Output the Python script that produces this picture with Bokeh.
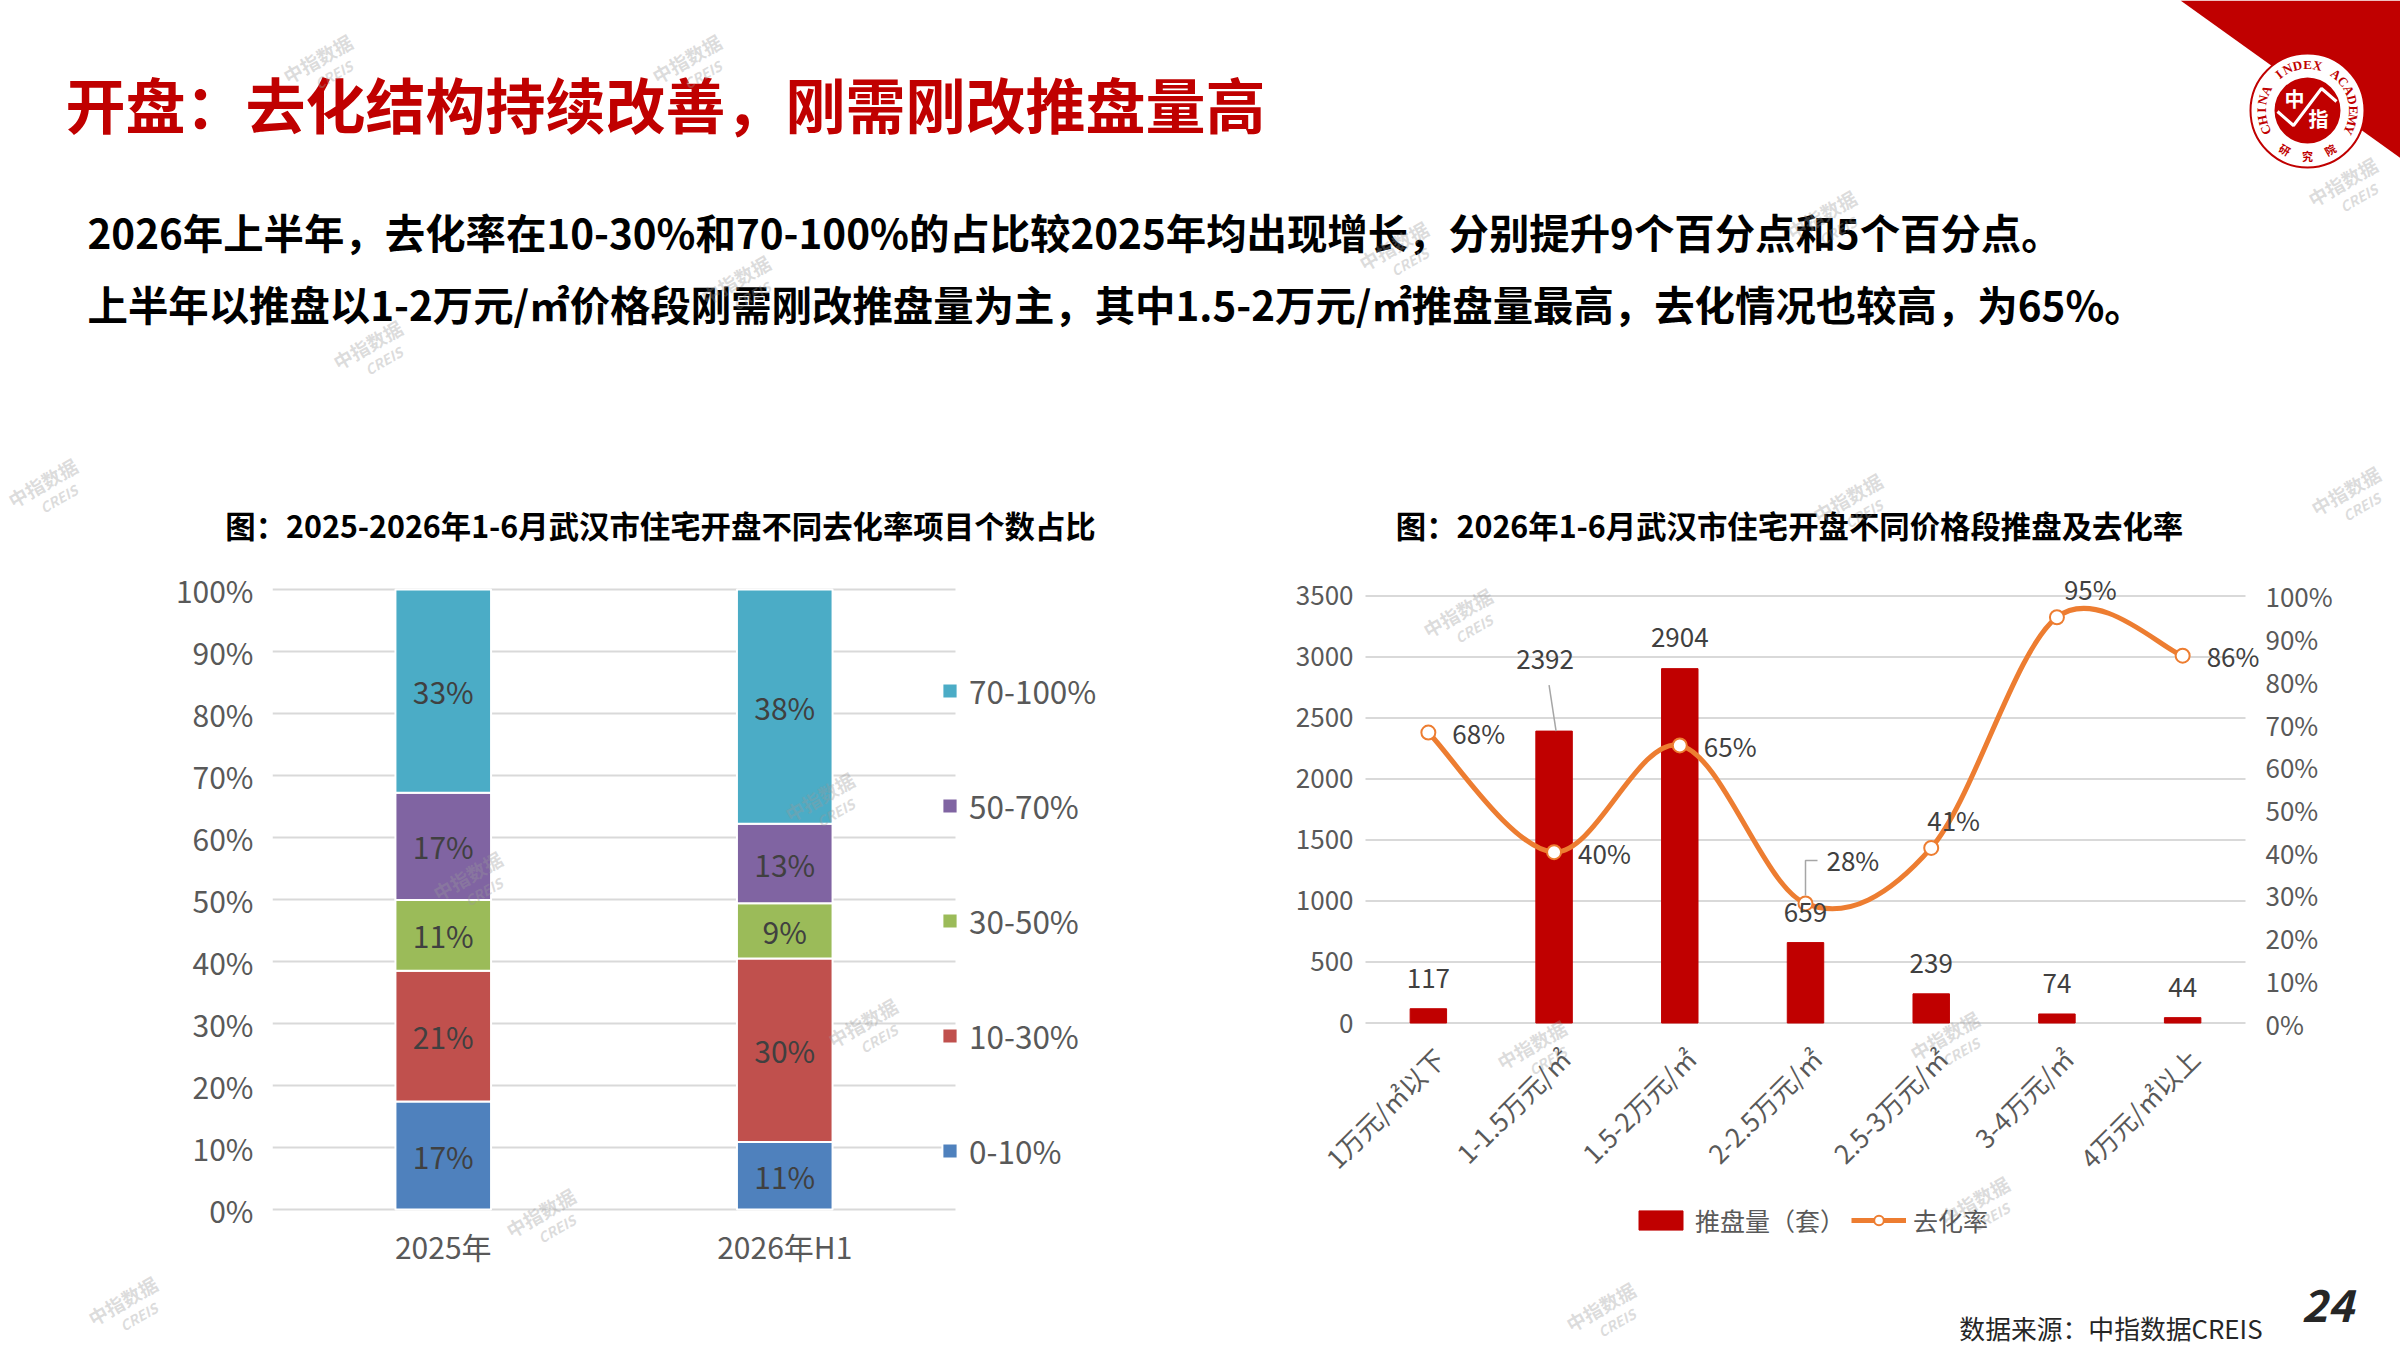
import math
from bokeh.plotting import figure
from bokeh.models import Range1d, LinearAxis, Legend, LegendItem, ColumnDataSource, FixedTicker
from bokeh.layouts import column, row
from bokeh.embed import file_html
from bokeh.resources import INLINE
from bokeh.core.properties import value

FONT = "Noto Sans CJK SC"

# ---------------- texts ----------------
page_title = "开盘：去化结构持续改善，刚需刚改推盘量高"
summary_1 = "2026年上半年，去化率在10-30%和70-100%的占比较2025年均出现增长，分别提升9个百分点和5个百分点。"
summary_2 = "上半年以推盘以1-2万元/㎡价格段刚需刚改推盘量为主，其中1.5-2万元/㎡推盘量最高，去化情况也较高，为65%。"
left_title = "图：2025-2026年1-6月武汉市住宅开盘不同去化率项目个数占比"
right_title = "图：2026年1-6月武汉市住宅开盘不同价格段推盘及去化率"
source_note = "数据来源：中指数据CREIS"
page_no = "24"

# ---------------- left chart data ----------------
years = ["2025年", "2026年H1"]
rate_bins = ["0-10%", "10-30%", "30-50%", "50-70%", "70-100%"]
share_0_10 = [17.4, 10.9]
share_10_30 = [21.1, 29.6]
share_30_50 = [11.4, 8.9]
share_50_70 = [17.3, 12.8]
share_70_100 = [32.8, 37.8]
pct_ticks = list(range(0, 101, 10))
bin_colors = ["#4F81BD", "#C0504D", "#9BBB59", "#8064A2", "#4BACC6"]

# ---------------- right chart data ----------------
price_bands = ["1万元/㎡以下", "1-1.5万元/㎡", "1.5-2万元/㎡", "2-2.5万元/㎡",
               "2.5-3万元/㎡", "3-4万元/㎡", "4万元/㎡以上"]
units = [117, 2392, 2904, 659, 239, 74, 44]
sell_rate = [68, 40, 65, 28, 41, 95, 86]
unit_ticks = list(range(0, 3501, 500))

AX_COLOR = "#595959"
LBL_COLOR = "#404040"
GRID = "#d9d9d9"
RED = "#C00000"
ORANGE = "#ED7D31"

W = 2400
H_HEAD, H_CHART, H_FOOT = 552, 716, 80
CHART_TOP = H_HEAD                 # screen y of chart row
FRAME_BOTTOM = CHART_TOP + H_CHART # screen y of chart frames' bottom
F0 = CHART_TOP + H_CHART           # screen y of footer


def blank(width, height):
    p = figure(width=width, height=height, x_range=Range1d(0, width), y_range=Range1d(height, 0),
               output_backend="svg", toolbar_location=None, min_border=0,
               x_axis_location=None, y_axis_location=None, title=None)
    p.outline_line_color = None
    p.grid.visible = False
    return p


def watermark(p, x, y, conv):
    th = math.radians(30)
    x0, y0 = conv(x, y)
    x1, y1 = conv(x + 22 * math.sin(th) + 6 * math.cos(th), y + 22 * math.cos(th) - 6 * math.sin(th))
    kw = dict(angle=th, text_align="center", text_baseline="middle", text_color="#9a9a9a",
              text_alpha=0.35, text_font=value(FONT))
    p.text(x=[x0], y=[y0], text=["中指数据"], text_font_size="19px", text_font_style="bold", **kw)
    p.text(x=[x1], y=[y1], text=["CREIS"], text_font_size="14px", text_font_style="bold italic", **kw)


def style_axis(ax, size):
    ax.major_tick_line_color = None
    ax.minor_tick_line_color = None
    ax.axis_line_color = None
    ax.major_label_text_font = FONT
    ax.major_label_text_font_size = size
    ax.major_label_text_color = AX_COLOR


# ================= header =================
pH = blank(W, H_HEAD)
hc = lambda sx, sy: (sx, sy)
pH.text(x=[65], y=[102], text=[page_title], text_font=value(FONT), text_font_size="60px",
        text_font_style="bold", text_color=RED, text_baseline="middle", text_align="left")
pH.text(x=[87, 87], y=[230.5, 302.5], text=[summary_1, summary_2], text_font=value(FONT),
        text_font_size="40.4px", text_font_style="bold", text_color="#000000",
        text_baseline="middle", text_align="left")
pH.text(x=[660, 1789], y=[524.5, 524.5], text=[left_title, right_title], text_font=value(FONT),
        text_font_size="30.4px", text_font_style="bold", text_color="#000000",
        text_baseline="middle", text_align="center")

# logo corner
pH.patch(x=[2180, 2420, 2420], y=[0, 0, 172], fill_color=RED, line_color=None)
cx, cy = 2307, 110
pH.circle(x=[cx], y=[cy], radius=57, fill_color="white", line_color=RED, line_width=2)
pH.circle(x=[cx], y=[cy], radius=33, fill_color=RED, line_color=None)
pH.line(x=[cx - 30, cx - 14, cx + 14, cx + 29], y=[cy + 1, cy + 15, cy - 22, cy - 9],
        line_color="white", line_width=3)
pH.text(x=[cx - 13, cx + 11], y=[cy - 12, cy + 8], text=["中", "指"], text_font=value(FONT),
        text_font_size="20px", text_font_style="bold", text_color="white",
        text_align="center", text_baseline="middle")
ring = "CHINA INDEX ACADEMY"
n = len(ring)
a0, a1 = math.radians(205), math.radians(-25)
for i, ch in enumerate(ring):
    t = a0 + (a1 - a0) * i / (n - 1)
    pH.text(x=[cx + 46 * math.cos(t)], y=[cy - 46 * math.sin(t)], text=[ch], angle=t - math.pi / 2,
            text_font=value("Liberation Serif"), text_font_size="13px", text_font_style="bold",
            text_color=RED, text_align="center", text_baseline="middle")
for i, ch in enumerate("研究院"):
    t = math.radians(240 + 30 * i)
    pH.text(x=[cx + 45 * math.cos(t)], y=[cy - 45 * math.sin(t)], text=[ch], angle=t + math.pi / 2,
            text_font=value(FONT), text_font_size="11px", text_font_style="bold",
            text_color=RED, text_align="center", text_baseline="middle")

for (sx, sy) in [(317, 58), (686, 58), (367, 344), (1821, 214), (1393, 245), (2342, 181),
                 (1847, 497), (2345, 490), (42, 482), (735, 279)]:
    watermark(pH, sx, sy, hc)

# ================= left chart =================
# frame: x 272..1200 ; categories 341.5 px wide, 0% at y=1209, 100% at y=589
L_PX = 6.2        # px per percentage point
L_CAT = 341.5     # px per category
pL = figure(width=1200, height=H_CHART, x_range=Range1d(0, (1200 - 272) / L_CAT),
            y_range=Range1d(-(FRAME_BOTTOM - 1209) / L_PX, 100 + (589 - CHART_TOP) / L_PX),
            output_backend="svg", toolbar_location=None, title=None,
            min_border_left=272, min_border_right=0, min_border_top=0, min_border_bottom=0)
pL.outline_line_color = None
pL.grid.visible = False
year_x = [i + 0.5 for i in range(len(years))]
pL.segment(x0=[0] * len(pct_ticks), x1=[len(years)] * len(pct_ticks), y0=pct_ticks, y1=pct_ticks,
           line_color=GRID, line_width=2)
srcL = ColumnDataSource(dict(xpos=year_x, b0=share_0_10, b1=share_10_30, b2=share_30_50,
                             b3=share_50_70, b4=share_70_100))
bars = pL.vbar_stack(["b0", "b1", "b2", "b3", "b4"], x="xpos", width=0.28, color=bin_colors,
                     line_color="white", line_width=2, source=srcL)
stack = [share_0_10, share_10_30, share_30_50, share_50_70, share_70_100]
lx, ly, lt = [], [], []
for j in range(len(years)):
    base = 0
    for s in stack:
        lx.append(year_x[j])
        ly.append(base + s[j] / 2)
        lt.append(f"{round(s[j])}%")
        base += s[j]
pL.text(x=lx, y=ly, text=lt, text_font=value(FONT), text_font_size="30px", text_color=LBL_COLOR,
        text_align="center", text_baseline="middle")

pL.yaxis.ticker = FixedTicker(ticks=pct_ticks)
pL.yaxis.major_label_overrides = {t: f"{t}%" for t in pct_ticks}
pL.xaxis.ticker = FixedTicker(ticks=year_x)
pL.xaxis.major_label_overrides = {x: yr for x, yr in zip(year_x, years)}
style_axis(pL.xaxis[0], "30px")
style_axis(pL.yaxis[0], "30px")
pL.yaxis.major_label_standoff = 13
pL.xaxis.fixed_location = 0
pL.xaxis.major_label_standoff = 8

legL = Legend(items=[LegendItem(label=rate_bins[k], renderers=[bars[k]]) for k in range(4, -1, -1)],
              location=(668, 93 - (1266 - FRAME_BOTTOM)), orientation="vertical",
              glyph_width=19, glyph_height=19,
              label_standoff=10, spacing=69, padding=0, margin=0, label_height=36,
              border_line_color=None, background_fill_alpha=0,
              label_text_font=FONT, label_text_font_size="31.5px", label_text_color=AX_COLOR)
pL.add_layout(legL, "center")

lc = lambda sx, sy: ((sx - 272) / L_CAT, (1209 - sy) / L_PX)
for (sx, sy) in [(467, 875), (819, 796), (862, 1022), (540, 1212)]:
    watermark(pL, sx, sy, lc)

# ================= right chart =================
# frame: x 1300..2290 (category 0 starts at 1365) ; 0 at y=1022.5, 3500 at y=595.4
PX_X = 880 / 7                 # px per category
PX_U = (1022.5 - 595.4) / 3500  # px per unit
PX_R = PX_U * 35               # px per percentage point
R_LEFT, R_ZERO, R_RIGHT = 1300, 1365, 2290
u_start = -(FRAME_BOTTOM - 1022.5) / PX_U
u_end = 3500 + (595.4 - CHART_TOP) / PX_U
pR = figure(width=1200, height=H_CHART,
            x_range=Range1d(-(R_ZERO - R_LEFT) / PX_X, (R_RIGHT - R_ZERO) / PX_X),
            y_range=Range1d(u_start, u_end), output_backend="svg", toolbar_location=None,
            title=None, min_border_left=R_LEFT - 1200, min_border_right=2400 - R_RIGHT,
            min_border_top=0, min_border_bottom=0)
pR.outline_line_color = None
pR.grid.visible = False
pR.extra_y_ranges = {"rate": Range1d(u_start / 35, u_end / 35)}

xs = [i + 0.5 for i in range(len(price_bands))]
# horizontal gridlines over the category span
pR.segment(x0=[0] * len(unit_ticks), x1=[len(price_bands)] * len(unit_ticks), y0=unit_ticks,
           y1=unit_ticks, line_color=GRID, line_width=2)

bar_r = pR.vbar(x=xs, top=units, width=0.29, color=RED)

# smoothed rate line (Catmull-Rom style Bezier through the data points)
m = len(sell_rate)
bx0, by0, bx1, by1, bcx0, bcy0, bcx1, bcy1 = [], [], [], [], [], [], [], []
for i in range(m - 1):
    p0 = i - 1 if i > 0 else i
    p3 = i + 2 if i + 2 < m else i + 1
    bx0.append(xs[i]); by0.append(sell_rate[i])
    bx1.append(xs[i + 1]); by1.append(sell_rate[i + 1])
    bcx0.append(xs[i] + (xs[i + 1] - xs[p0]) / 6)
    bcy0.append(sell_rate[i] + (sell_rate[i + 1] - sell_rate[p0]) / 6)
    bcx1.append(xs[i + 1] - (xs[p3] - xs[i]) / 6)
    bcy1.append(sell_rate[i + 1] - (sell_rate[p3] - sell_rate[i]) / 6)
line_r = pR.bezier(x0=bx0, y0=by0, x1=bx1, y1=by1, cx0=bcx0, cy0=bcy0, cx1=bcx1, cy1=bcy1,
                   line_color=ORANGE, line_width=5, y_range_name="rate")
mark_r = pR.scatter(x=xs, y=sell_rate, marker="circle", size=14, fill_color="white",
                    line_color=ORANGE, line_width=2, y_range_name="rate")

# leader lines
pR.segment(x0=[xs[1] + 2 / PX_X], y0=[units[1]], x1=[xs[1] - 5 / PX_X], y1=[units[1] + 46 / PX_U],
           line_color="#a6a6a6", line_width=1.5)
pR.line(x=[xs[3], xs[3], xs[3] + 12 / PX_X],
        y=[sell_rate[3] + 8 / PX_R, sell_rate[3] + 43 / PX_R, sell_rate[3] + 43 / PX_R],
        line_color="#a6a6a6", line_width=1.5, y_range_name="rate")

bar_dx = [0, -9, 0, 0, 0, 0, 0]
bar_dy = [-30, -72, -31, -30, -30, -30, -30]
pR.text(x=xs, y=units, text=[str(u) for u in units], x_offset=bar_dx, y_offset=bar_dy,
        text_font=value(FONT), text_font_size="26px", text_color=LBL_COLOR,
        text_align="center", text_baseline="middle")
rate_dx = [24, 24, 24, 21, -4, 7, 24]
rate_dy = [0, 0, 0, -44, -28, -29, 0]
pR.text(x=xs, y=sell_rate, text=[f"{r}%" for r in sell_rate], x_offset=rate_dx,
        y_offset=rate_dy, text_font=value(FONT), text_font_size="26px", text_color=LBL_COLOR,
        text_align="left", text_baseline="middle", y_range_name="rate")

pR.yaxis.ticker = FixedTicker(ticks=unit_ticks)
ax2 = LinearAxis(y_range_name="rate", ticker=FixedTicker(ticks=pct_ticks))
ax2.major_label_overrides = {t: f"{t}%" for t in pct_ticks}
pR.add_layout(ax2, "right")
band_ticks = [x + 0.0875 for x in xs]
pR.xaxis.ticker = FixedTicker(ticks=band_ticks)
pR.xaxis.major_label_overrides = {t: b for t, b in zip(band_ticks, price_bands)}
for ax in (pR.xaxis[0], pR.yaxis[0], ax2):
    style_axis(ax, "26px")
pR.yaxis[0].major_label_standoff = 6 - (R_ZERO - R_LEFT)
ax2.major_label_standoff = -31
pR.xaxis.fixed_location = 0
pR.xaxis.major_label_orientation = math.pi / 4
pR.xaxis.major_label_standoff = 24

legR = Legend(items=[LegendItem(label="推盘量（套）", renderers=[bar_r]),
                     LegendItem(label="去化率", renderers=[line_r, mark_r])],
              location=(268 + R_ZERO - R_LEFT, 28 - (1266 - FRAME_BOTTOM)),
              orientation="horizontal", glyph_width=55,
              glyph_height=24, label_standoff=7, spacing=6, padding=0, margin=0, label_height=30,
              border_line_color=None, background_fill_alpha=0,
              label_text_font=FONT, label_text_font_size="25px", label_text_color=AX_COLOR)
pR.add_layout(legR, "center")

rc = lambda sx, sy: ((sx - R_ZERO) / PX_X, (1022.5 - sy) / PX_U)
for (sx, sy) in [(1457, 612), (1531, 1044), (1944, 1035), (1974, 1200)]:
    watermark(pR, sx, sy, rc)

# ================= footer =================
pF = blank(W, H_FOOT)
fc = lambda sx, sy: (sx, sy - F0)
pF.text(x=[2327], y=[1304.5 - F0], text=[page_no], text_font=value(FONT), text_font_size="44px",
        text_font_style="bold italic", text_color="#262626", text_align="center",
        text_baseline="middle")
pF.text(x=[2262], y=[1327 - F0], text=[source_note], text_font=value(FONT),
        text_font_size="25.8px", text_color="#262626", text_align="right",
        text_baseline="middle")
for (sx, sy) in [(122, 1300), (1600, 1306)]:
    watermark(pF, sx, sy, fc)

layout = column(pH, row(pL, pR), pF)
open("out.html", "w").write(file_html(layout, INLINE))
